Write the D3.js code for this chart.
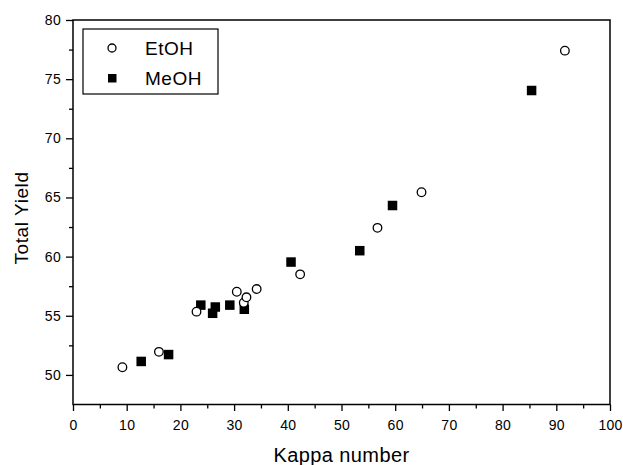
<!DOCTYPE html>
<html>
<head>
<meta charset="utf-8">
<script src="https://cdn.jsdelivr.net/npm/d3@7"></script>
<style>
  body { margin: 0; background: #fff; }
  svg { font-family: "Liberation Sans", Arial, sans-serif; }
</style>
</head>
<body>
<svg id="chart"></svg>
<script>
// values
const etohKappa = [9.2, 16.0, 23.0, 30.5, 31.8, 32.3, 34.2, 42.3, 56.7, 64.9, 91.6];
const etohYield = [50.65, 51.95, 55.35, 57.03, 56.1, 56.56, 57.26, 58.5, 62.43, 65.44, 77.41];
const meohKappa = [12.7, 17.8, 23.8, 26.0, 26.5, 29.2, 31.9, 40.6, 53.4, 59.5, 85.4];
const meohYield = [51.14, 51.72, 55.9, 55.21, 55.74, 55.9, 55.55, 59.54, 60.5, 64.32, 74.04];
const xTicks = [0, 10, 20, 30, 40, 50, 60, 70, 80, 90, 100];
const yTicks = [50, 55, 60, 65, 70, 75, 80];

const W = 623, H = 465;
const margin = {top: 20, right: 13, bottom: 60.5, left: 73};
const width = W - margin.left - margin.right,
  height = H - margin.top - margin.bottom;

const svg = d3.select("#chart")
  .attr("width", W)
  .attr("height", H);

const g = svg.append("g")
  .attr("transform", "translate(" + margin.left + "," + margin.top + ")");

const x = d3.scaleLinear().domain([0, 100]).range([0, width]);
const y = d3.scaleLinear().domain([47.5, 80]).range([height, 0]);

// minor ticks (half steps)
const xMinor = d3.range(5, 100, 10);
const yMinor = d3.range(52.5, 80, 5);

g.append("g")
  .attr("transform", "translate(0," + height + ")")
  .call(d3.axisBottom(x).tickValues(xMinor).tickSize(4).tickFormat(""))
  .call(a => a.select(".domain").remove());
g.append("g")
  .call(d3.axisLeft(y).tickValues(yMinor).tickSize(4).tickFormat(""))
  .call(a => a.select(".domain").remove());

g.append("g")
  .attr("class", "axis")
  .attr("transform", "translate(0," + height + ")")
  .call(d3.axisBottom(x).tickValues(xTicks).tickSize(6.5).tickPadding(9).tickFormat(d3.format("d")));
g.append("g")
  .attr("class", "axis")
  .call(d3.axisLeft(y).tickValues(yTicks).tickSize(7).tickPadding(5).tickFormat(d3.format("d")));

g.selectAll(".axis .domain").remove();
g.selectAll(".tick line").attr("stroke", "#000").attr("stroke-width", 1.3);
g.selectAll(".tick text")
  .attr("fill", "#000")
  .style("font-size", "14px")
  .style("letter-spacing", "0.3px");

// frame
g.append("rect")
  .attr("width", width)
  .attr("height", height)
  .attr("fill", "none")
  .attr("stroke", "#000")
  .attr("stroke-width", 1.5);

// axis titles
svg.append("text")
  .attr("x", margin.left + width / 2)
  .attr("y", 462)
  .attr("text-anchor", "middle")
  .style("font-size", "20px")
  .style("letter-spacing", "0.4px")
  .text("Kappa number");

svg.append("text")
  .attr("transform", "translate(27.5,218) rotate(-90)")
  .attr("text-anchor", "middle")
  .style("font-size", "19px")
  .style("letter-spacing", "0.6px")
  .text("Total Yield");

// data
const meoh = meohKappa.map((k, i) => ({k: k, v: meohYield[i]}));
const etoh = etohKappa.map((k, i) => ({k: k, v: etohYield[i]}));
const sq = 9.5;

g.selectAll(".meoh")
  .data(meoh)
  .enter().append("rect")
  .attr("class", "meoh")
  .attr("x", d => x(d.k) - sq / 2)
  .attr("y", d => y(d.v) - sq / 2)
  .attr("width", sq)
  .attr("height", sq)
  .attr("fill", "#000");

g.selectAll(".etoh")
  .data(etoh)
  .enter().append("circle")
  .attr("class", "etoh")
  .attr("cx", d => x(d.k))
  .attr("cy", d => y(d.v))
  .attr("r", 4.3)
  .attr("fill", "#fff")
  .attr("stroke", "#000")
  .attr("stroke-width", 1.3);

// legend
const legend = svg.append("g").attr("transform", "translate(83,29)");
legend.append("rect")
  .attr("width", 135)
  .attr("height", 65)
  .attr("fill", "#fff")
  .attr("stroke", "#000")
  .attr("stroke-width", 1.2);
legend.append("circle")
  .attr("cx", 29).attr("cy", 19).attr("r", 4)
  .attr("fill", "#fff").attr("stroke", "#000").attr("stroke-width", 1.3);
legend.append("rect")
  .attr("x", 25).attr("y", 45).attr("width", 8.5).attr("height", 8.5)
  .attr("fill", "#000");
legend.append("text")
  .attr("x", 62).attr("y", 26)
  .style("font-size", "19px")
  .style("letter-spacing", "0.5px")
  .text("EtOH");
legend.append("text")
  .attr("x", 62).attr("y", 56)
  .style("font-size", "19px")
  .style("letter-spacing", "0.5px")
  .text("MeOH");
</script>
</body>
</html>
